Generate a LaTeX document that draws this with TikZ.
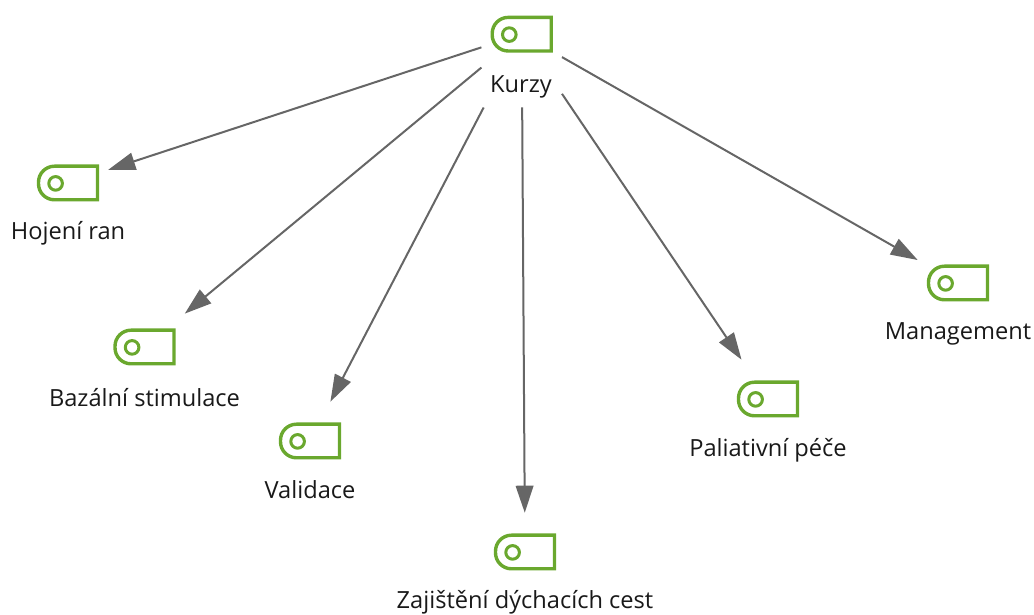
\documentclass[tikz,border=0pt]{standalone}
\usepackage{fontspec}
\setmainfont{Open Sans}
\usetikzlibrary{arrows.meta}
\definecolor{taggreen}{HTML}{6AA82E}
\definecolor{linkgray}{HTML}{666666}
\tikzset{
  tagnode/.style={minimum width=2cm, minimum height=1.95cm, inner sep=0pt, path picture={
    \begin{scope}[shift={(path picture bounding box.center)}]
    \draw[taggreen, line width=0.085cm] (29.5,16.8) -- (29.5,-16.8) [rounded corners=0.4cm] -- (-29.5,-16.8) -- (-29.5,16.8) [sharp corners] -- cycle;
    \draw[taggreen, line width=0.075cm] (-12.4,0.4) circle (6.8);
    \end{scope}}},
  taglabel/.style={inner sep=0pt, font=\fontsize{16.8}{20}\selectfont, text=black!90},
  link/.style={draw=linkgray, line width=0.05cm, -{Triangle[length=0.675cm,width=0.44cm]}}
}
\begin{document}
\begin{tikzpicture}[x=0.025cm, y=-0.025cm]
\useasboundingbox (0,0) rectangle (1034,615);
\node[tagnode, minimum height=3.65cm] (kurzy) at (521.7,34.2) {};
\node[tagnode] (hojeni) at (68,183) {};
\node[tagnode] (bazalni) at (144.5,347) {};
\node[tagnode] (validace) at (310,441) {};
\node[tagnode] (zajisteni) at (525,552) {};
\node[tagnode] (paliativni) at (768,399) {};
\node[tagnode] (management) at (958,283) {};
\node[taglabel] (kurzylabel) at (521,87) {Kurzy};
\node[taglabel] (hojenilabel) at (68,233) {Hojení ran};
\node[taglabel] (bazalnilabel) at (144.5,398) {Bazální stimulace};
\node[taglabel] (validacelabel) at (310,490) {Validace};
\node[taglabel] (zajistenilabel) at (525,602) {Zajištění dýchacích cest};
\node[taglabel] (paliativnilabel) at (768,450) {Paliativní péče};
\node[taglabel] (managementlabel) at (958,334) {Management};
\draw[link] (kurzy) -- (hojeni);
\draw[link] (kurzy) -- (bazalni);
\draw[link] (kurzy) -- (validace);
\draw[link] (kurzy) -- (zajisteni);
\draw[link] (kurzy) -- (paliativni);
\draw[link] (kurzy) -- (management);
\end{tikzpicture}
\end{document}
